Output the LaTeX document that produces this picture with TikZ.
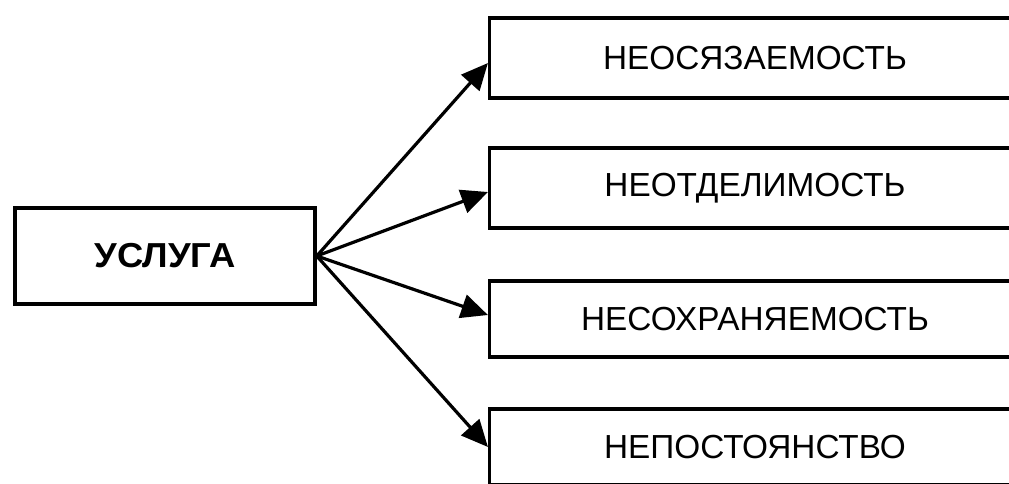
\documentclass[tikz,border=0pt]{standalone}
\usepackage{fontspec}
\setmainfont{Liberation Sans}
\newfontfamily\widebold[FakeStretch=1.05]{Liberation Sans}
\usetikzlibrary{arrows.meta}

\begin{document}
\begin{tikzpicture}[x=0.75pt,y=-0.75pt,
  box/.style={draw,line width=2.6pt,inner sep=0pt},
  prop/.style={box,minimum width=398pt,font=\fontsize{25}{30}\selectfont},
  arr/.style={line width=2.4pt,-{Triangle[length=20pt,width=18pt]}}]
  \path[use as bounding box,fill=white] (0,0) rectangle (1009,483);
  \clip (0,0) rectangle (1009,483);
  \node[box,minimum width=225pt,minimum height=72pt,
    font=\widebold\bfseries\fontsize{26}{31}\selectfont] (usl) at (165,256) {УСЛУГА};
  \node[prop,minimum height=60pt] (neos) at (755,58)  {НЕОСЯЗАЕМОСТЬ};
  \node[prop,minimum height=60pt] (neot) at (755,188) {НЕОТДЕЛИМОСТЬ};
  \node[prop,minimum height=57pt] (neso) at (755,319) {НЕСОХРАНЯЕМОСТЬ};
  \node[prop,minimum height=57pt] (nepo) at (755,447) {НЕПОСТОЯНСТВО};
  \foreach \b/\dy in {neos/-3.75pt,neot/-3pt,neso/3pt,nepo/0pt}
    \draw[arr] (usl.east) -- ([yshift=\dy]\b.west);
\end{tikzpicture}
\end{document}
